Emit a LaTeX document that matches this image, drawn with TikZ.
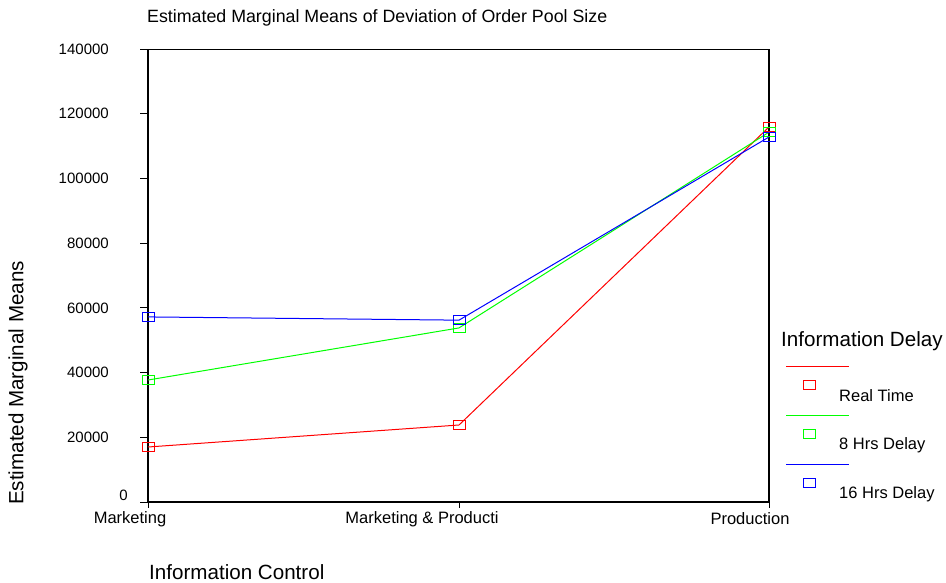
\documentclass[tikz,border=0pt]{standalone}
\usepackage{fontspec}
\setmainfont{Liberation Sans}
\begin{document}
\begin{tikzpicture}[x=1pt,y=-1pt,
  axis/.style={line width=1.6pt,black},
  tick/.style={line width=1pt,black},
  mk/.style={draw,line width=0.9pt,minimum width=12pt,minimum height=9pt,inner sep=0pt,fill=none},
  ser/.style={line width=1pt},
  num/.style={font=\fontsize{15}{15}\selectfont,inner sep=0pt},
  lbl/.style={font=\fontsize{16.5}{16.5}\selectfont,inner sep=0pt},
  ttl/.style={font=\fontsize{17.8}{17.8}\selectfont,inner sep=0pt},
  big/.style={font=\fontsize{20.6}{20.6}\selectfont,inner sep=0pt}]
\useasboundingbox (0,0) rectangle (946,582);
\colorlet{gr}{green}
% axes
\coordinate (tl) at (148,49);
\coordinate (bl) at (148,502);
\coordinate (br) at (769,502);
\coordinate (tr) at (769,49);
\draw[axis] (tl) -- (bl) -- (br) -- (tr);
\draw[tick] (140,49) -- (769,49);
\draw[tick] (140,502) -- (148,502);
\foreach \v in {20,40,60,80,100,120}{
  \pgfmathsetmacro{\yy}{502-\v*3.2357}
  \draw[tick] (140,\yy) -- (148,\yy);
  \node[num,anchor=east] at (109,\yy) {\v000};
}
\node[num,anchor=east] at (109,49) {140000};
\node[num,anchor=east] at (128,495) {0};
\draw[tick] (148,502) -- (148,508);
\draw[tick] (459,502) -- (459,508);
\draw[tick] (769,502) -- (769,508);
\node[lbl] (xl1) at (130,519) {Marketing};
\node[lbl] (xl2) at (422,519) {Marketing \& Producti};
\node[lbl] (xl3) at (750,519) {Production};
\node[ttl,anchor=west] (title) at (147,18) {Estimated Marginal Means of Deviation of Order Pool Size};
\node[big,anchor=west] (xt) at (149,572) {Information Control};
\node[big,rotate=90] (yt) at (18,383) {Estimated Marginal Means};
% data
\foreach \c/\a/\b/\d in {red/17.0/23.8/115.9, gr/37.7/53.8/114.3, blue/57.2/56.2/112.8}{
  \pgfmathsetmacro{\ya}{502-\a*3.2357}
  \pgfmathsetmacro{\yb}{502-\b*3.2357}
  \pgfmathsetmacro{\yc}{502-\d*3.2357}
  \coordinate (pa) at (148,\ya);
  \coordinate (pb) at (459,\yb);
  \coordinate (pc) at (769,\yc);
  \draw[ser,\c] (pa) -- (pb) -- (pc);
  \node[mk,\c] at (pa) {};
  \node[mk,\c] at (pb) {};
  \node[mk,\c] at (pc) {};
}
% legend
\node[big,anchor=west] (lt) at (781,341) {Information Delay};
\foreach \c/\y/\t in {red/366/Real Time, gr/415/8 Hrs Delay, blue/464/16 Hrs Delay}{
  \coordinate (la) at (786,\y);
  \coordinate (lb) at (849,\y);
  \draw[ser,\c] (la) -- (lb);
  \node[mk,\c] at (809,\y+19) {};
  \node[lbl,anchor=west] at (839,\y+30) {\t};
}
\end{tikzpicture}
\end{document}
